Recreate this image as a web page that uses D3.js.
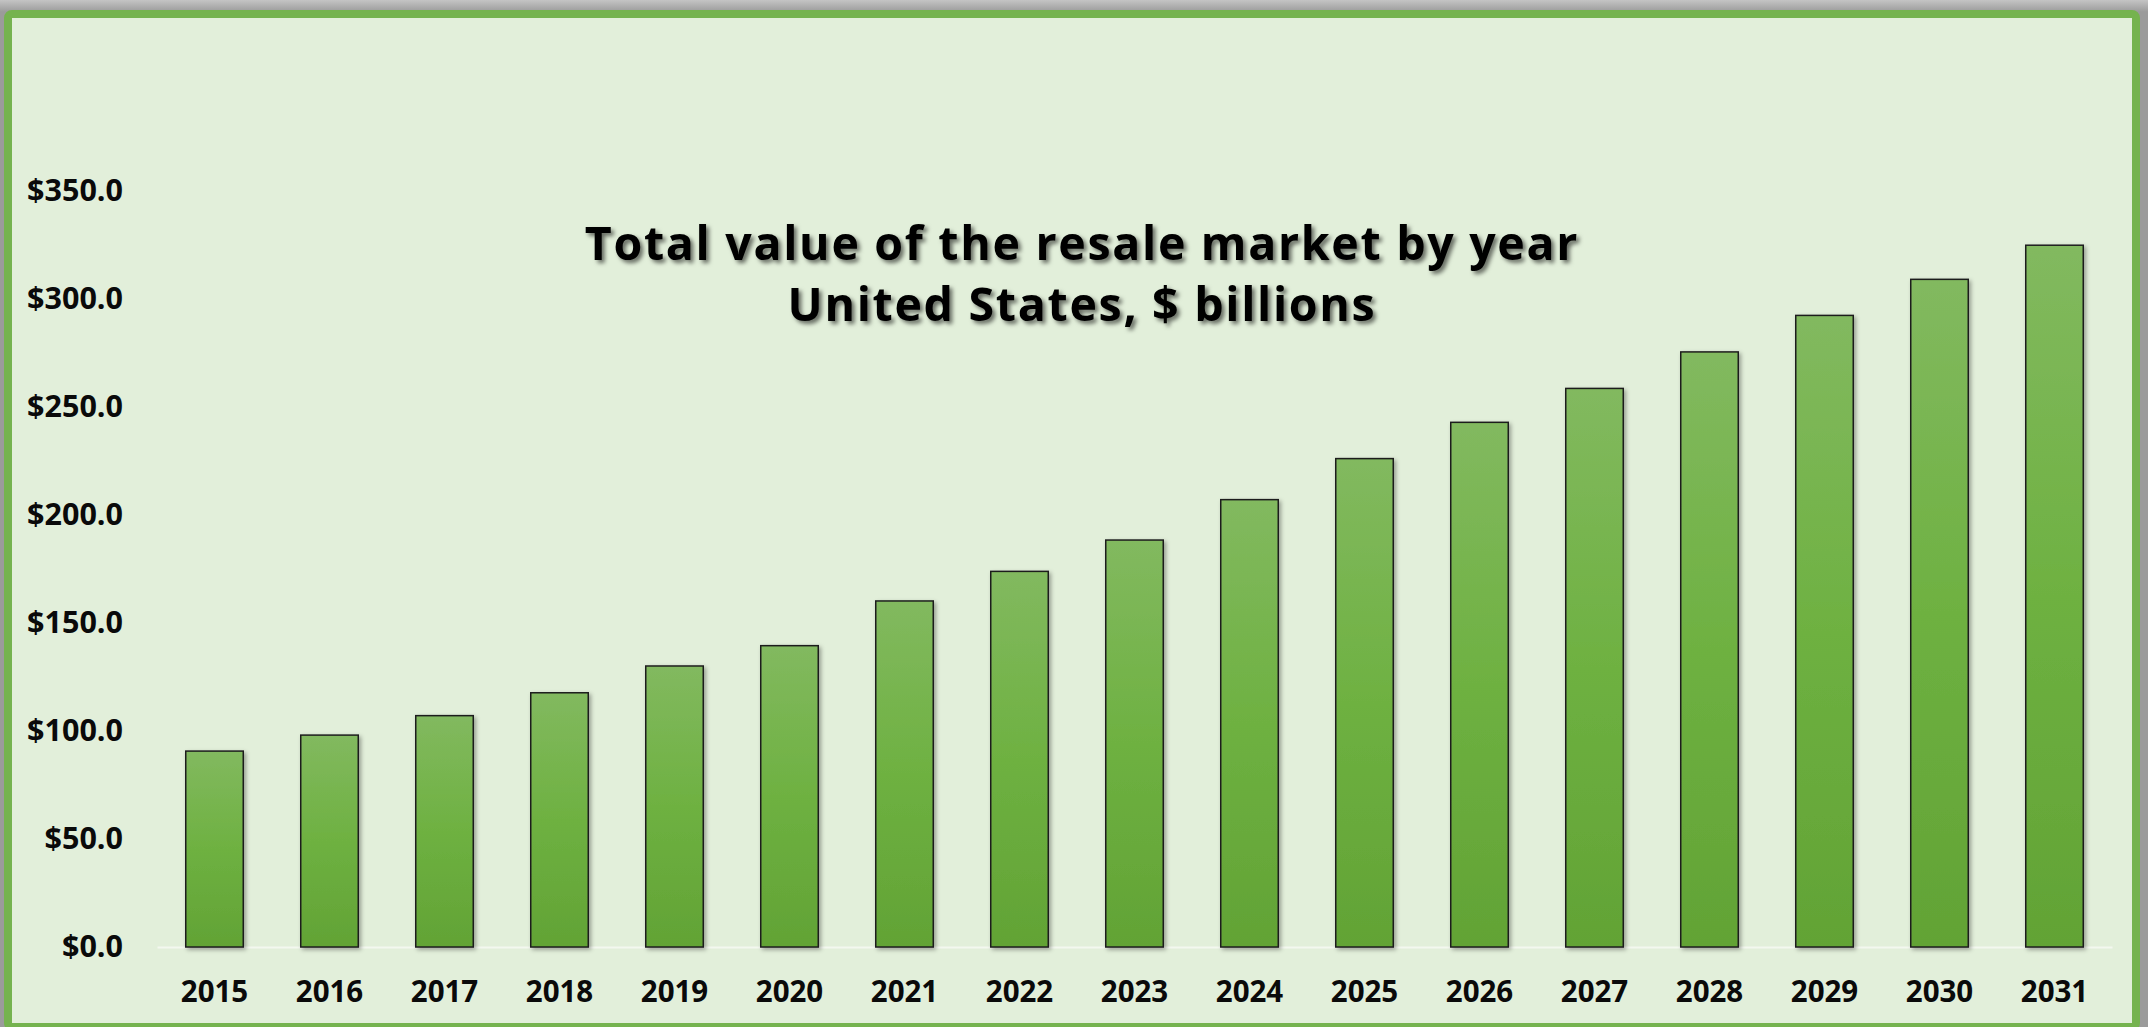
<!DOCTYPE html>
<html>
<head>
<meta charset="utf-8">
<script src="https://cdn.jsdelivr.net/npm/d3@7"></script>
<style>
  html, body { margin: 0; padding: 0; background: #9b9b9b; overflow: hidden; }
  svg { display: block; }
</style>
</head>
<body>
<svg id="chart" width="2148" height="1027"></svg>
<script>
// ---- data ----
const years = ["2015","2016","2017","2018","2019","2020","2021","2022","2023","2024","2025","2026","2027","2028","2029","2030","2031"];
const values = [90.7, 98.1, 107.1, 117.7, 130.1, 139.5, 160.2, 173.9, 188.4, 207.1, 226.1, 242.9, 258.6, 275.5, 292.4, 309.1, 324.9];
const yTicks = [0, 50, 100, 150, 200, 250, 300, 350];
const titleLines = ["Total value of the resale market by year", "United States, $ billions"];

const svg = d3.select("#chart");
const W = 2148, H = 1027;
const defs = svg.append("defs");

// top gray gradient strip
const gTop = defs.append("linearGradient").attr("id","topgrad").attr("x1",0).attr("y1",0).attr("x2",0).attr("y2",1);
gTop.append("stop").attr("offset","0%").attr("stop-color","#c4c4c4");
gTop.append("stop").attr("offset","100%").attr("stop-color","#9a9a9a");

const barGrad = defs.append("linearGradient").attr("id","bargrad").attr("x1",0).attr("y1",0).attr("x2",0).attr("y2",1);
barGrad.append("stop").attr("offset","0%").attr("stop-color","#82b95f");
barGrad.append("stop").attr("offset","50%").attr("stop-color","#6eb141");
barGrad.append("stop").attr("offset","100%").attr("stop-color","#62a335");

const barShadow = defs.append("filter").attr("id","barshadow").attr("x","-20%").attr("y","-5%").attr("width","140%").attr("height","110%");
barShadow.append("feDropShadow").attr("dx",2).attr("dy",2).attr("stdDeviation",2)
  .attr("flood-color","#000").attr("flood-opacity",0.35);

const titleShadow = defs.append("filter").attr("id","titleshadow").attr("x","-5%").attr("y","-30%").attr("width","110%").attr("height","160%");
titleShadow.append("feDropShadow").attr("dx",3).attr("dy",3).attr("stdDeviation",2)
  .attr("flood-color","#000").attr("flood-opacity",0.55);

// background
svg.append("rect").attr("x",0).attr("y",0).attr("width",W).attr("height",H).attr("fill","#9b9b9b");
svg.append("rect").attr("x",0).attr("y",0).attr("width",W).attr("height",12).attr("fill","url(#topgrad)");
svg.append("rect").attr("x",8).attr("y",14).attr("width",2128).attr("height",1013)
  .attr("rx",4).attr("fill","#e2efda").attr("stroke","#75b34f").attr("stroke-width",8);

// scales
const x = d3.scaleBand().domain(years).range([157, 2112]).paddingInner(0.5).paddingOuter(0.25);
const y = d3.scaleLinear().domain([0, 350]).range([947, 191]);

// x axis
const xAxis = svg.append("g").attr("transform","translate(0,947)")
  .call(d3.axisBottom(x).tickSize(0).tickSizeOuter(0).tickPadding(34));
xAxis.select(".domain").attr("stroke","#f3f8ef").attr("stroke-width",2);
xAxis.selectAll("text").attr("font-family","'Open Sans', sans-serif").attr("font-weight","bold")
  .attr("font-size","29.5px").attr("fill","#0a0a0a");

// y axis
const yAxis = svg.append("g").attr("transform","translate(123,0)")
  .call(d3.axisLeft(y).tickValues(yTicks).tickSize(0).tickPadding(0).tickFormat(d => "$" + d.toFixed(1)));
yAxis.select(".domain").remove();
yAxis.selectAll("text").attr("font-family","'Open Sans', sans-serif").attr("font-weight","bold")
  .attr("font-size","30.5px").attr("fill","#0a0a0a");

// bars
svg.append("g").selectAll("rect").data(values).join("rect")
  .attr("x", (d,i) => x(years[i]))
  .attr("y", d => y(d))
  .attr("width", x.bandwidth())
  .attr("height", d => y(0) - y(d))
  .attr("fill","url(#bargrad)")
  .attr("stroke","#1e1e1e").attr("stroke-width",1.5)
  .attr("filter","url(#barshadow)");

// title
const title = svg.append("text").attr("x",1082).attr("y",260)
  .attr("text-anchor","middle")
  .attr("font-family","'Open Sans', sans-serif").attr("font-weight","bold")
  .attr("font-size","46.5px").attr("letter-spacing","1.7px").attr("fill","#050505")
  .attr("filter","url(#titleshadow)");
titleLines.forEach((t,i) => {
  title.append("tspan").attr("x",1082).attr("dy", i === 0 ? 0 : 61).text(t);
});
</script>
</body>
</html>
